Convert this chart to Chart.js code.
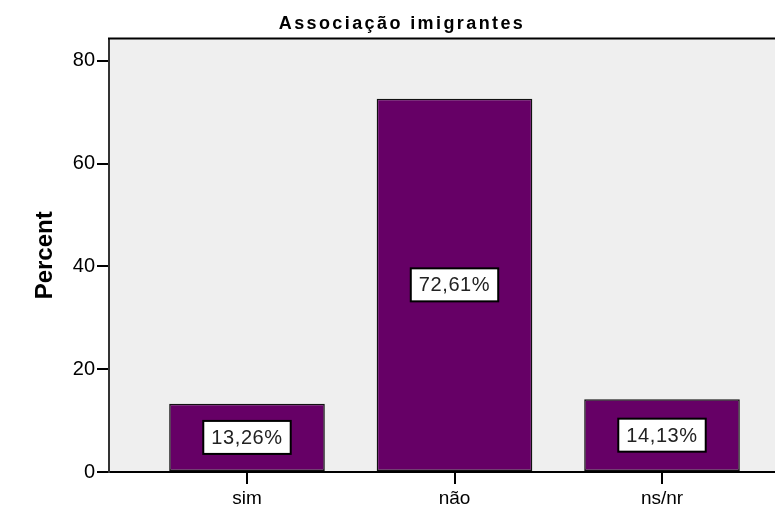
<!DOCTYPE html>
<html>
<head>
<meta charset="utf-8">
<script src="https://cdn.jsdelivr.net/npm/chart.js@4/dist/chart.umd.min.js"></script>
<style>
  html, body { margin: 0; padding: 0; background: #fff; overflow: hidden; }
  #wrap { width: 802px; height: 508px; }
</style>
</head>
<body>
<div id="wrap"><canvas id="chart"></canvas></div>
<script>
var categories = ['sim', 'não', 'ns/nr'];
var percentValues = [13.26, 72.61, 14.13];
var yTicks = [0, 20, 40, 60, 80];
var chartTitle = 'Associação imigrantes';
var yTitle = 'Percent';

var FONT = "'Liberation Sans', Arial, sans-serif";

// plot background, top frame line, letter-spaced title
var frame = {
  id: 'frame',
  beforeDraw: function(chart) {
    var a = chart.chartArea, ctx = chart.ctx;
    ctx.save();
    ctx.fillStyle = '#efefef';
    ctx.fillRect(a.left, a.top, a.right - a.left, a.bottom - a.top);
    ctx.restore();
  },
  afterDraw: function(chart) {
    var a = chart.chartArea, ctx = chart.ctx;
    ctx.save();
    ctx.strokeStyle = '#000';
    ctx.lineWidth = 2;
    ctx.beginPath();
    ctx.moveTo(a.left - 1, a.top);
    ctx.lineTo(a.right, a.top);
    ctx.stroke();
    ctx.font = 'bold 18px ' + FONT;
    ctx.letterSpacing = '2.4px';
    ctx.fillStyle = '#000';
    ctx.textAlign = 'center';
    ctx.textBaseline = 'alphabetic';
    ctx.fillText(chartTitle, chart.width / 2 + 1, 29);
    ctx.restore();
  }
};

// boxed percent labels in the middle of each bar
var boxLabels = {
  id: 'boxLabels',
  afterDatasetsDraw: function(chart) {
    var ctx = chart.ctx;
    var meta = chart.getDatasetMeta(0);
    ctx.save();
    ctx.font = '20px ' + FONT;
    ctx.letterSpacing = '0.6px';
    ctx.textAlign = 'center';
    ctx.textBaseline = 'middle';
    meta.data.forEach(function(bar, i) {
      var txt = percentValues[i].toFixed(2).replace('.', ',') + '%';
      var w = ctx.measureText(txt).width + 16;
      var h = 33;
      var cx = bar.x, cy = (bar.y + bar.base) / 2;
      ctx.fillStyle = '#fff';
      ctx.fillRect(cx - w / 2, cy - h / 2, w, h);
      ctx.strokeStyle = '#000';
      ctx.lineWidth = 2;
      ctx.strokeRect(cx - w / 2, cy - h / 2, w, h);
      ctx.fillStyle = '#222';
      ctx.fillText(txt, cx, cy + 1);
    });
    ctx.restore();
  }
};

new Chart(document.getElementById('chart'), {
  type: 'bar',
  data: {
    datasets: [{
      data: percentValues.map(function(v, i) { return { x: i, y: v }; }),
      backgroundColor: '#660066',
      borderColor: '#111',
      borderWidth: 1.5,
      borderSkipped: false,
      barPercentage: 0.75,
      categoryPercentage: 1
    }]
  },
  options: {
    responsive: true,
    maintainAspectRatio: false,
    animation: false,
    layout: { padding: { left: 0, right: 2, top: 0, bottom: 0 } },
    plugins: {
      legend: { display: false },
      tooltip: { enabled: false },
      title: {
        display: true,
        text: chartTitle,
        color: 'rgba(0,0,0,0)',
        font: { family: FONT, size: 18, weight: 'bold' },
        padding: { top: 13, bottom: 4 }
      }
    },
    scales: {
      x: {
        type: 'linear',
        offset: false,
        min: -0.665,
        max: 2.665,
        afterBuildTicks: function(scale) {
          scale.ticks = categories.map(function(c, i) { return { value: i }; });
        },
        afterFit: function(scale) { scale.height = 36; },
        ticks: {
          callback: function(v) { return categories[v]; },
          color: '#000',
          font: { family: FONT, size: 19 },
          padding: 3,
          maxRotation: 0
        },
        grid: { offset: false, drawOnChartArea: false, color: '#000', lineWidth: 2, tickLength: 12 },
        border: { display: true, color: '#000', width: 2 }
      },
      y: {
        min: 0,
        max: 84.3,
        afterBuildTicks: function(scale) {
          scale.ticks = yTicks.map(function(v) { return { value: v }; });
        },
        afterFit: function(scale) { scale.width = 109; },
        ticks: {
          color: '#000',
          font: { family: FONT, size: 20 },
          padding: 2
        },
        grid: { drawOnChartArea: false, color: '#000', lineWidth: 2, tickLength: 12 },
        border: { display: true, color: '#333', width: 2 },
        title: {
          display: true,
          text: yTitle,
          color: '#000',
          font: { family: FONT, size: 24, weight: 'bold' },
          padding: { top: 31, bottom: 0 }
        }
      }
    }
  },
  plugins: [frame, boxLabels]
});
</script>
</body>
</html>
